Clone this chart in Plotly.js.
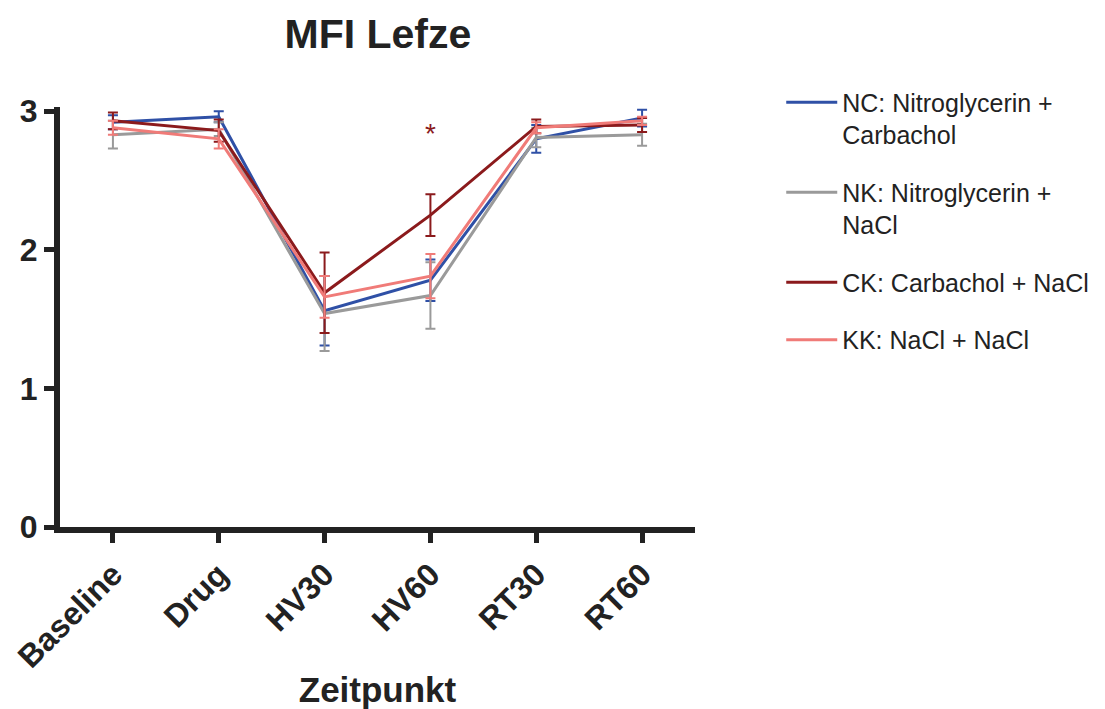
<!DOCTYPE html>
<html>
<head>
<meta charset="utf-8">
<script src="https://cdn.plot.ly/plotly-3.0.1.min.js"></script>
<style>html,body{margin:0;padding:0;background:#fff;}#chart{width:1105px;height:709px;}</style>
</head>
<body>
<div id="chart"></div>
<script>
const categories = ["Baseline", "Drug", "HV30", "HV60", "RT30", "RT60"];

const ncValues = [2.92, 2.96, 1.56, 1.78, 2.80, 2.95];
const ncErrors = [0.05, 0.04, 0.25, 0.15, 0.10, 0.06];

const nkValues = [2.83, 2.87, 1.54, 1.67, 2.81, 2.83];
const nkErrors = [0.10, 0.05, 0.27, 0.24, 0.07, 0.08];

const ckValues = [2.93, 2.86, 1.69, 2.25, 2.89, 2.90];
const ckErrors = [0.06, 0.08, 0.29, 0.15, 0.05, 0.05];

const kkValues = [2.88, 2.80, 1.66, 1.81, 2.88, 2.93];
const kkErrors = [0.05, 0.07, 0.15, 0.16, 0.04, 0.03];

const seriesNames = [
  "NC: Nitroglycerin +<br>Carbachol",
  "NK: Nitroglycerin +<br>NaCl",
  "CK: Carbachol + NaCl",
  "KK: NaCl + NaCl"
];
const colors = ["#2f50a6", "#9a9a9a", "#8b1a1c", "#f07b78"];
const allValues = [ncValues, nkValues, ckValues, kkValues];
const allErrors = [ncErrors, nkErrors, ckErrors, kkErrors];

const significance = { category: "HV60", y: 2.84, text: "*" };

const traces = allValues.map((vals, i) => ({
  type: "scatter",
  mode: "lines",
  x: categories,
  y: vals,
  name: seriesNames[i],
  legendgroup: "g" + i,
  line: { color: colors[i], width: 3 },
  error_y: { type: "data", array: allErrors[i], visible: true, color: colors[i], thickness: 2, width: 5 },
  cliponaxis: false
}));

const font = "Liberation Sans, Arial, sans-serif";

const layout = {
  width: 1105,
  height: 709,
  margin: { l: 60, r: 410, t: 107, b: 182 },
  paper_bgcolor: "#fff",
  plot_bgcolor: "#fff",
  showlegend: true,
  title: {
    text: "<b>MFI Lefze</b>",
    font: { family: font, size: 41, color: "#222" },
    xref: "container", yref: "container",
    x: 0.342, xanchor: "center", y: 0.953, yanchor: "middle"
  },
  xaxis: {
    type: "category",
    range: [-0.5, 5.5],
    showline: true, linewidth: 6, linecolor: "#222",
    ticks: "outside", ticklen: 10, tickwidth: 5, tickcolor: "#222",
    tickangle: -45,
    tickfont: { family: font, size: 32, color: "#222", weight: "bold" },
    showgrid: false, zeroline: false,
    title: { text: "<b>Zeitpunkt</b>", font: { family: font, size: 35, color: "#222" }, standoff: 10 }
  },
  yaxis: {
    range: [0, 3.03],
    tickvals: [0, 1, 2, 3],
    showline: true, linewidth: 6, linecolor: "#222",
    ticks: "outside", ticklen: 10, tickwidth: 5, tickcolor: "#222",
    tickfont: { family: font, size: 32, color: "#222", weight: "bold" },
    showgrid: false, zeroline: false
  },
  legend: {
    xref: "container", yref: "container",
    x: 0.707, y: 0.888, xanchor: "left", yanchor: "top",
    font: { family: font, size: 25, color: "#222" },
    valign: "top",
    traceorder: "grouped",
    tracegroupgap: 22,
    itemwidth: 51
  },
  annotations: [{
    x: significance.category, y: significance.y, xref: "x", yref: "y",
    text: significance.text, showarrow: false,
    font: { family: font, size: 28, color: "#8b1a1c" }
  }]
};

Plotly.newPlot("chart", traces, layout, { displayModeBar: false, staticPlot: true });
</script>
</body>
</html>
